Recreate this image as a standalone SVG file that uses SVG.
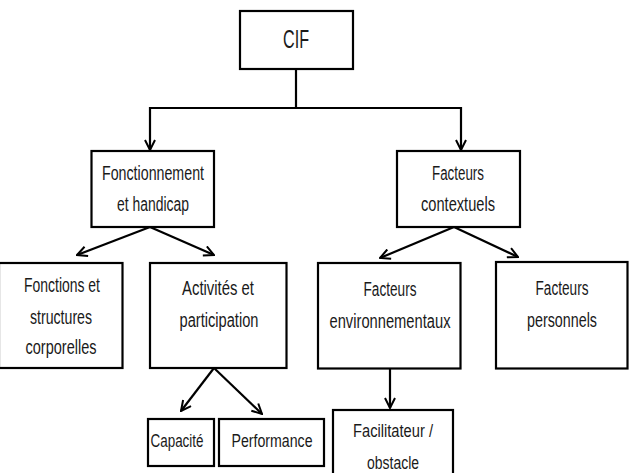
<svg xmlns="http://www.w3.org/2000/svg" width="630" height="473" viewBox="0 0 630 473">
<defs>
<style>
.box{fill:#fff;stroke:#000;stroke-width:2.2}
.lbl{font-family:"Liberation Sans",Arial,sans-serif;font-size:19.5px;fill:#1a1a1a;text-anchor:middle}
.big{font-size:26.5px}
.sm{font-size:17.5px}
.con{fill:none;stroke:#000;stroke-width:2.2}
</style>
<marker id="arr" viewBox="0 0 12 12" refX="11" refY="6" markerWidth="12" markerHeight="12" markerUnits="userSpaceOnUse" orient="auto">
<path d="M1,1 L11,6 L1,11" fill="none" stroke="#000" stroke-width="2"/>
</marker>
</defs>
<rect width="630" height="473" fill="#fff"/>
<g id="connectors">
<path class="con" d="M296,69 V108"/>
<path class="con" d="M296,108 H150 V150" marker-end="url(#arr)"/>
<path class="con" d="M296,108 H461 V150" marker-end="url(#arr)"/>
<path class="con" d="M150,227 L77,255" marker-end="url(#arr)"/>
<path class="con" d="M150,227 L214,255" marker-end="url(#arr)"/>
<path class="con" d="M454,227 L380,258" marker-end="url(#arr)"/>
<path class="con" d="M454,227 L518,257" marker-end="url(#arr)"/>
<path class="con" d="M214,368 L181,411" marker-end="url(#arr)"/>
<path class="con" d="M214,368 L262,414" marker-end="url(#arr)"/>
<path class="con" d="M390,368 V408" marker-end="url(#arr)"/>
</g>
<g id="cif">
<rect class="box" x="240" y="11" width="113" height="58"/>
<text class="lbl big" x="296" y="48" textLength="26" lengthAdjust="spacingAndGlyphs">CIF</text>
</g>
<g id="fonctionnement">
<rect class="box" x="91.5" y="151" width="122.5" height="76"/>
<text class="lbl" x="153" y="180" textLength="102" lengthAdjust="spacingAndGlyphs">Fonctionnement</text>
<text class="lbl" x="153" y="211" textLength="72" lengthAdjust="spacingAndGlyphs">et handicap</text>
</g>
<g id="contextuels">
<rect class="box" x="397" y="151" width="123" height="76"/>
<text class="lbl" x="458" y="180" textLength="52" lengthAdjust="spacingAndGlyphs">Facteurs</text>
<text class="lbl" x="458" y="211" textLength="74" lengthAdjust="spacingAndGlyphs">contextuels</text>
</g>
<g id="fonctions">
<rect class="box" x="-1" y="263" width="123.5" height="105"/>
<text class="lbl" x="62" y="292" textLength="76" lengthAdjust="spacingAndGlyphs">Fonctions et</text>
<text class="lbl" x="61" y="324" textLength="62" lengthAdjust="spacingAndGlyphs">structures</text>
<text class="lbl" x="61" y="354" textLength="71" lengthAdjust="spacingAndGlyphs">corporelles</text>
</g>
<g id="activites">
<rect class="box" x="150" y="263" width="136.5" height="105"/>
<text class="lbl" x="218" y="295" textLength="72" lengthAdjust="spacingAndGlyphs">Activités et</text>
<text class="lbl" x="219" y="327" textLength="79" lengthAdjust="spacingAndGlyphs">participation</text>
</g>
<g id="environnementaux">
<rect class="box" x="318" y="263" width="142.5" height="105.5"/>
<text class="lbl" x="390" y="296" textLength="53" lengthAdjust="spacingAndGlyphs">Facteurs</text>
<text class="lbl" x="390" y="328" textLength="121" lengthAdjust="spacingAndGlyphs">environnementaux</text>
</g>
<g id="personnels">
<rect class="box" x="496" y="262" width="131.5" height="106.5"/>
<text class="lbl" x="562" y="295" textLength="53" lengthAdjust="spacingAndGlyphs">Facteurs</text>
<text class="lbl" x="562" y="327" textLength="70" lengthAdjust="spacingAndGlyphs">personnels</text>
</g>
<g id="capacite">
<rect class="box" x="148" y="419" width="66" height="47"/>
<text class="lbl sm" x="177" y="447" textLength="53" lengthAdjust="spacingAndGlyphs">Capacité</text>
</g>
<g id="performance">
<rect class="box" x="219" y="419" width="105" height="47"/>
<text class="lbl sm" x="272" y="447" textLength="81" lengthAdjust="spacingAndGlyphs">Performance</text>
</g>
<g id="facilitateur">
<rect class="box" x="333" y="410" width="120" height="70"/>
<text class="lbl sm" x="393" y="437" textLength="80" lengthAdjust="spacingAndGlyphs">Facilitateur /</text>
<text class="lbl sm" x="393" y="469" textLength="52" lengthAdjust="spacingAndGlyphs">obstacle</text>
</g>
</svg>
